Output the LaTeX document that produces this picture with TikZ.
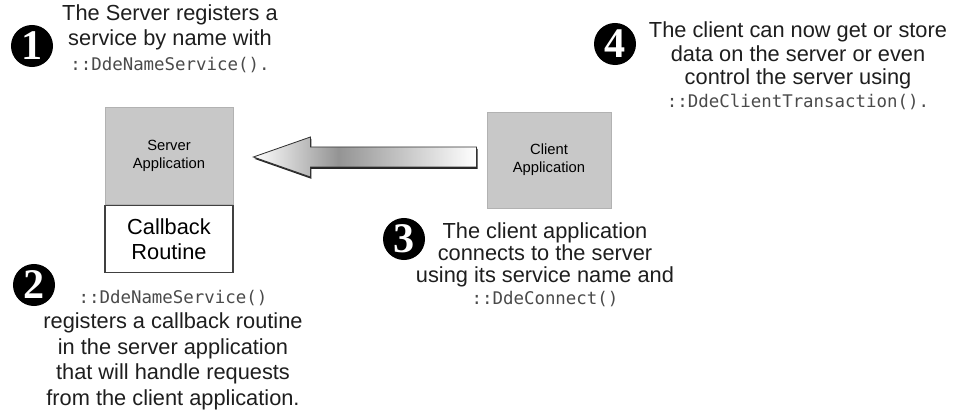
\documentclass[tikz,border=0pt]{standalone}
\usepackage{fontspec}
\setmainfont{Liberation Sans}
\setmonofont{DejaVu Sans Mono}[Scale=0.8]
\newfontfamily\badgefont{Liberation Serif}
\usetikzlibrary{positioning,calc}
\definecolor{appfill}{HTML}{C8C8C8}
\definecolor{notetext}{HTML}{1E1E1E}
\definecolor{codetext}{HTML}{4A4A4A}
\pgfdeclarehorizontalshading{arrowshade}{100bp}{color(0bp)=(white); color(25bp)=(white); color(44bp)=(black!42); color(75bp)=(white); color(100bp)=(white)}
\newcommand{\ddecall}[1]{\textcolor{codetext}{\texttt{#1}}}

\begin{document}
\begin{tikzpicture}[x=0.025cm, y=-0.025cm,
  app/.style={draw=black!30, line width=0.6pt, fill=appfill, minimum width=3.2cm, minimum height=2.425cm, align=center, inner sep=0pt, font=\fontsize{10.5}{12.8}\selectfont},
  routine/.style={draw=black!75, line width=0.8pt, fill=white, minimum width=3.2cm, minimum height=1.675cm, align=center, inner sep=0pt, font=\fontsize{15.5}{17.7}\selectfont},
  note/.style={align=center, inner sep=0pt, text=notetext, font=\fontsize{15.5}{17.7}\selectfont},
  badge/.style={circle, fill=black, text=white, minimum size=1.05cm, inner sep=0pt, font=\badgefont\bfseries\fontsize{30}{30}\selectfont},
  bigarr/.style={draw=black!80, line width=0.6pt, shading=arrowshade}
]
  \useasboundingbox (0,0) rectangle (959,412);

  \node[app] (server) at (169,156) {Server\\Application};
  \node[routine, below=0pt of server] (callback) {Callback\\Routine};
  \node[app, minimum width=3.1cm, minimum height=2.4cm] (client) at (549,160) {Client\\Application};

  \node[note] (step1) at (170,39) {The Server registers a\\service by name with\\\ddecall{::DdeNameService().}};
  \node[badge] (num1) at (32,46) {1};

  \node[note, font=\fontsize{15.5}{18.2}\selectfont] (step2) at (173,350) {\ddecall{::DdeNameService()}\\registers a callback routine\\in the server application\\that will handle requests\\from the client application.};
  \node[badge] (num2) at (34,285) {2};

  \node[note, font=\fontsize{15.5}{15.6}\selectfont] (step3) at (545,265) {The client application\\connects to the server\\using its service name and\\\ddecall{::DdeConnect()}};
  \node[badge] (num3) at (404,239) {3};

  \node[note, font=\fontsize{15.5}{16.5}\selectfont] (step4) at (798,66) {The client can now get or store\\data on the server or even\\control the server using\\\ddecall{::DdeClientTransaction().}};
  \node[badge] (num4) at (615,44) {4};

  \coordinate (tip) at ($(server.east)+(20,1)$);
  \coordinate (tail) at ($(client.west)+(-10,-3)$);
  \begin{scope}[transform canvas={xshift=0.7pt, yshift=-1.3pt}]
    \fill[black!85] (tip) -- ($(tip)+(57,-20)$) -- ($(tip)+(57,-10)$) -- ($(tail)+(0,-10)$)
      -- ($(tail)+(0,10)$) -- ($(tip)+(57,10)$) -- ($(tip)+(57,20)$) -- cycle;
  \end{scope}
  \shade[bigarr] (tip) -- ($(tip)+(57,-20)$) -- ($(tip)+(57,-10)$) -- ($(tail)+(0,-10)$)
    -- ($(tail)+(0,10)$) -- ($(tip)+(57,10)$) -- ($(tip)+(57,20)$) -- cycle;
\end{tikzpicture}
\end{document}
